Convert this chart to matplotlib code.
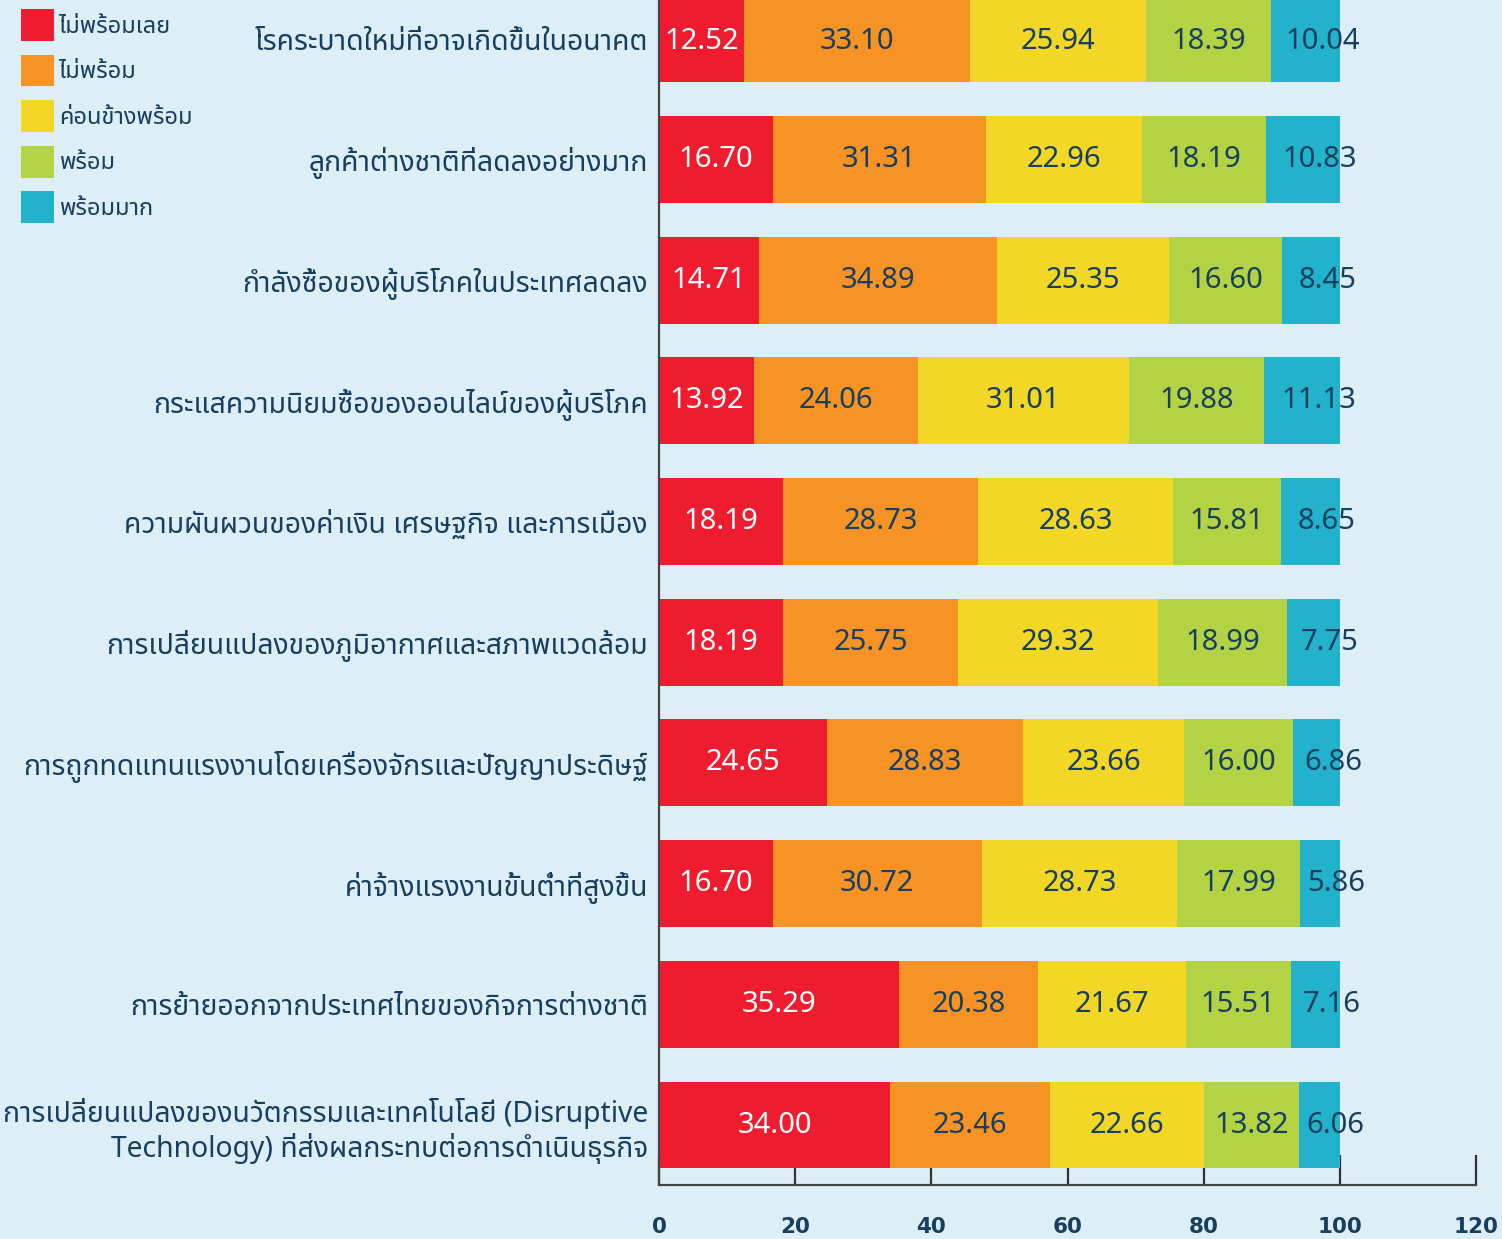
import matplotlib
matplotlib.use("Agg")
import matplotlib.pyplot as plt
from matplotlib.patches import Patch
import numpy as np

plt.rcParams["font.family"] = ["Noto Sans Thai", "Noto Sans", "DejaVu Sans"]

BG = "#ddeef6"
NAVY = "#173f5f"

# ── ข้อมูล ─────────────────────────────────────────────────────────────
categories = [
    "โรคระบาดใหม่ที่อาจเกิดขึ้นในอนาคต",
    "ลูกค้าต่างชาติที่ลดลงอย่างมาก",
    "กำลังซื้อของผู้บริโภคในประเทศลดลง",
    "กระแสความนิยมซื้อของออนไลน์ของผู้บริโภค",
    "ความผันผวนของค่าเงิน เศรษฐกิจ และการเมือง",
    "การเปลี่ยนแปลงของภูมิอากาศและสภาพแวดล้อม",
    "การถูกทดแทนแรงงานโดยเครื่องจักรและปัญญาประดิษฐ์",
    "ค่าจ้างแรงงานขั้นต่ำที่สูงขึ้น",
    "การย้ายออกจากประเทศไทยของกิจการต่างชาติ",
    "การเปลี่ยนแปลงของนวัตกรรมและเทคโนโลยี (Disruptive\nTechnology) ที่ส่งผลกระทบต่อการดำเนินธุรกิจ",
]
series_names = ["ไม่พร้อมเลย", "ไม่พร้อม", "ค่อนข้างพร้อม", "พร้อม", "พร้อมมาก"]
not_ready_at_all = [12.52, 16.70, 14.71, 13.92, 18.19, 18.19, 24.65, 16.70, 35.29, 34.00]
not_ready        = [33.10, 31.31, 34.89, 24.06, 28.73, 25.75, 28.83, 30.72, 20.38, 23.46]
fairly_ready     = [25.94, 22.96, 25.35, 31.01, 28.63, 29.32, 23.66, 28.73, 21.67, 22.66]
ready            = [18.39, 18.19, 16.60, 19.88, 15.81, 18.99, 16.00, 17.99, 15.51, 13.82]
very_ready       = [10.04, 10.83, 8.45, 11.13, 8.65, 7.75, 6.86, 5.86, 7.16, 6.06]
colors = ["#ee1c2e", "#f79325", "#f2d726", "#b3d345", "#23b2cc"]
text_colors = ["white", NAVY, NAVY, NAVY, NAVY]
x_ticks = [0, 20, 40, 60, 80, 100, 120]

series = [not_ready_at_all, not_ready, fairly_ready, ready, very_ready]

fig = plt.figure(figsize=(15.02, 12.39), dpi=100, facecolor=BG)
ax = fig.add_axes([659 / 1502, 1 - 1185 / 1239, (1476 - 659) / 1502, 1185 / 1239])
ax.set_facecolor(BG)

y = np.arange(len(categories))
left = np.zeros(len(categories))
for i, (vals, col, tcol) in enumerate(zip(series, colors, text_colors)):
    vals = np.array(vals)
    bars = ax.barh(y, vals, left=left, height=0.72, color=col, zorder=2)
    anns = ax.bar_label(bars, labels=[f"{v:.2f}" for v in vals], label_type="center",
                        color=tcol, fontsize=21, zorder=3)
    if i == len(series) - 1:
        # ตัวเลขของช่องสุดท้ายเลื่อนไปทางขวาเล็กน้อยเหมือนต้นฉบับ
        for a in anns:
            a.xyann = (12, 0)
    left += vals

ax.set_xlim(0, 120)
ax.set_ylim(len(categories) - 1 + 0.497, -0.321)
ax.set_xticks(x_ticks)
ax.set_yticks(y)
ax.set_yticklabels(categories, fontsize=20.4, color=NAVY, ha="right", multialignment="right")
ax.set_axisbelow(True)
ax.tick_params(axis="y", length=0, pad=8)
ax.tick_params(axis="x", direction="in", length=21.6, width=1.6, color="#333333",
               labelsize=15.5, labelcolor=NAVY, pad=23)
for t in ax.get_xticklabels():
    t.set_fontweight("bold")
    t.set_family(["DejaVu Sans"])

for s in ["top", "right"]:
    ax.spines[s].set_visible(False)
for s in ["left", "bottom"]:
    ax.spines[s].set_color("#444444")
    ax.spines[s].set_linewidth(1.6)

handles = [Patch(facecolor=c, edgecolor="none") for c in colors]
fig.legend(handles, series_names, loc="upper left",
           bbox_to_anchor=(21 / 1502, 1 - 9 / 1239), frameon=False,
           fontsize=17, handlelength=1.4, handleheight=1.7, labelspacing=0.58,
           handletextpad=0.2, borderpad=0, borderaxespad=0, labelcolor=NAVY)

fig.savefig("out.png", dpi=100, facecolor=BG)
